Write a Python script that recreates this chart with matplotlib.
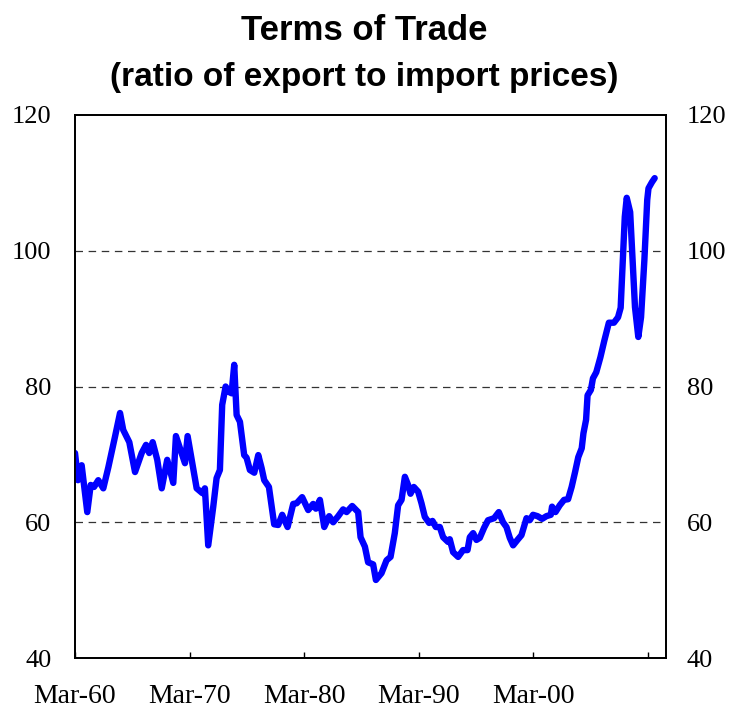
"""
plot.py — Terms of Trade (ratio of export to import prices), line chart.
"""

import matplotlib
matplotlib.use("Agg")
import matplotlib.pyplot as plt

# ── data (decimal years) ─────────────────────────────────────────────────────
years = [
    1960.00, 1960.26, 1960.58, 1961.07, 1961.37, 1961.66, 1962.03, 1962.47,
    1962.91, 1963.49, 1963.93, 1964.21, 1964.74, 1965.24, 1965.82, 1966.20,
    1966.48, 1966.78, 1967.18, 1967.57, 1968.05, 1968.58, 1968.81, 1969.60,
    1969.83, 1970.27, 1970.62, 1970.76, 1971.11, 1971.34, 1971.63, 1972.07,
    1972.36, 1972.65, 1972.85, 1973.15, 1973.44, 1973.67, 1973.90, 1974.11,
    1974.40, 1974.77, 1974.98, 1975.27, 1975.65, 1976.00, 1976.29, 1976.52,
    1976.93, 1977.39, 1977.74, 1978.09, 1978.56, 1979.05, 1979.35, 1979.83,
    1980.36, 1980.79, 1981.03, 1981.38, 1981.76, 1982.19, 1982.54, 1982.98,
    1983.41, 1983.71, 1984.20, 1984.72, 1984.93, 1985.31, 1985.59, 1986.03,
    1986.27, 1986.76, 1987.20, 1987.55, 1987.92, 1988.21, 1988.51, 1988.80,
    1989.08, 1989.29, 1989.58, 1989.96, 1990.25, 1990.54, 1990.92, 1991.21,
    1991.50, 1991.85, 1992.14, 1992.57, 1992.72, 1993.01, 1993.45, 1993.88,
    1994.27, 1994.47, 1994.76, 1995.05, 1995.34, 1995.72, 1996.06, 1996.59,
    1997.00, 1997.37, 1997.67, 1997.96, 1998.25, 1998.63, 1998.98, 1999.42,
    1999.70, 1999.99, 2000.38, 2000.78, 2001.16, 2001.54, 2001.65, 2001.95,
    2002.32, 2002.70, 2003.05, 2003.36, 2003.66, 2003.94, 2004.24, 2004.39,
    2004.62, 2004.75, 2005.04, 2005.22, 2005.51, 2005.87, 2006.22, 2006.61,
    2007.05, 2007.41, 2007.64, 2007.79, 2008.00, 2008.17, 2008.47, 2008.68,
    2008.89, 2009.18, 2009.42, 2009.71, 2009.96, 2010.07, 2010.37, 2010.61,
]
tot_index = [
    70.2, 66.2, 68.4, 61.5, 65.5, 65.2, 66.2, 65.0,
    68.1, 72.6, 76.1, 73.6, 71.8, 67.4, 70.2, 71.4,
    70.2, 71.8, 69.2, 65.0, 69.2, 65.8, 72.7, 68.7,
    72.7, 68.4, 65.0, 64.8, 64.3, 65.0, 56.6, 62.3,
    66.5, 67.7, 77.3, 80.0, 79.2, 79.0, 83.2, 75.8,
    74.8, 69.9, 69.5, 67.7, 67.3, 69.9, 68.0, 66.2,
    65.2, 59.7, 59.6, 61.1, 59.3, 62.7, 62.8, 63.7,
    61.8, 62.7, 62.0, 63.3, 59.3, 60.9, 60.0, 60.9,
    61.9, 61.5, 62.4, 61.5, 57.8, 56.4, 54.1, 53.8,
    51.5, 52.5, 54.4, 54.9, 58.4, 62.5, 63.3, 66.7,
    65.5, 64.2, 65.2, 64.5, 62.8, 60.8, 59.9, 60.2,
    59.3, 59.3, 57.8, 57.1, 57.5, 55.6, 54.9, 55.9,
    55.9, 57.8, 58.4, 57.4, 57.7, 59.2, 60.3, 60.6,
    61.5, 60.0, 59.3, 57.7, 56.6, 57.4, 58.1, 60.6,
    60.3, 61.1, 60.9, 60.5, 60.9, 61.1, 62.3, 61.5,
    62.5, 63.3, 63.4, 65.2, 67.4, 69.6, 70.9, 73.1,
    75.1, 78.7, 79.5, 81.2, 82.1, 84.3, 86.8, 89.4,
    89.4, 90.2, 91.6, 97.2, 105.0, 107.8, 105.7, 98.6,
    91.7, 87.3, 90.2, 98.6, 107.5, 109.2, 110.1, 110.7,
]

x_ticks = [1960, 1970, 1980, 1990, 2000, 2010]
x_tick_labels = ["Mar-60", "Mar-70", "Mar-80", "Mar-90", "Mar-00", ""]
y_ticks = [40, 60, 80, 100, 120]
grid_levels = [60, 80, 100]

SERIF = ["Liberation Serif", "DejaVu Serif"]
SANS = ["Liberation Sans", "DejaVu Sans"]

# ── figure ───────────────────────────────────────────────────────────────────
fig = plt.figure(figsize=(7.29, 7.09), dpi=100)
ax = fig.add_axes([0.1029, 0.0719, 0.8107, 0.7659])

for lvl in grid_levels:
    ax.axhline(lvl, color="#333333", lw=0.9, ls=(0, (6, 4.5)), zorder=1)

ax.plot(years, tot_index, color="#0000ff", lw=4.6,
        solid_joinstyle="round", solid_capstyle="round", zorder=3)

ax.set_xlim(1960, 2011.6)
ax.set_ylim(40, 120)

ax.set_xticks(x_ticks)
ax.set_xticklabels(x_tick_labels, fontfamily=SERIF, fontsize=20)
ax.tick_params(axis="x", direction="in", length=4, width=1, pad=19,
               color="black")

ax.set_yticks(y_ticks)
ax.set_yticklabels([str(v) for v in y_ticks], fontfamily=SERIF, fontsize=19)
ax.tick_params(axis="y", length=0, pad=17)

ax2 = ax.twinx()
ax2.set_ylim(40, 120)
ax2.set_yticks(y_ticks)
ax2.set_yticklabels([str(v) for v in y_ticks], fontfamily=SERIF, fontsize=19)
ax2.tick_params(axis="y", length=0, pad=15)

for a in (ax, ax2):
    for sp in a.spines.values():
        sp.set_linewidth(1.3)
        sp.set_color("black")

fig.text(0.5, 0.957, "Terms of Trade", ha="center", va="center",
         fontfamily=SANS, fontweight="bold", fontsize=25)
fig.text(0.5, 0.891, "(ratio of export to import prices)", ha="center",
         va="center", fontfamily=SANS, fontweight="bold", fontsize=24)

fig.savefig("out.png", dpi=100)
